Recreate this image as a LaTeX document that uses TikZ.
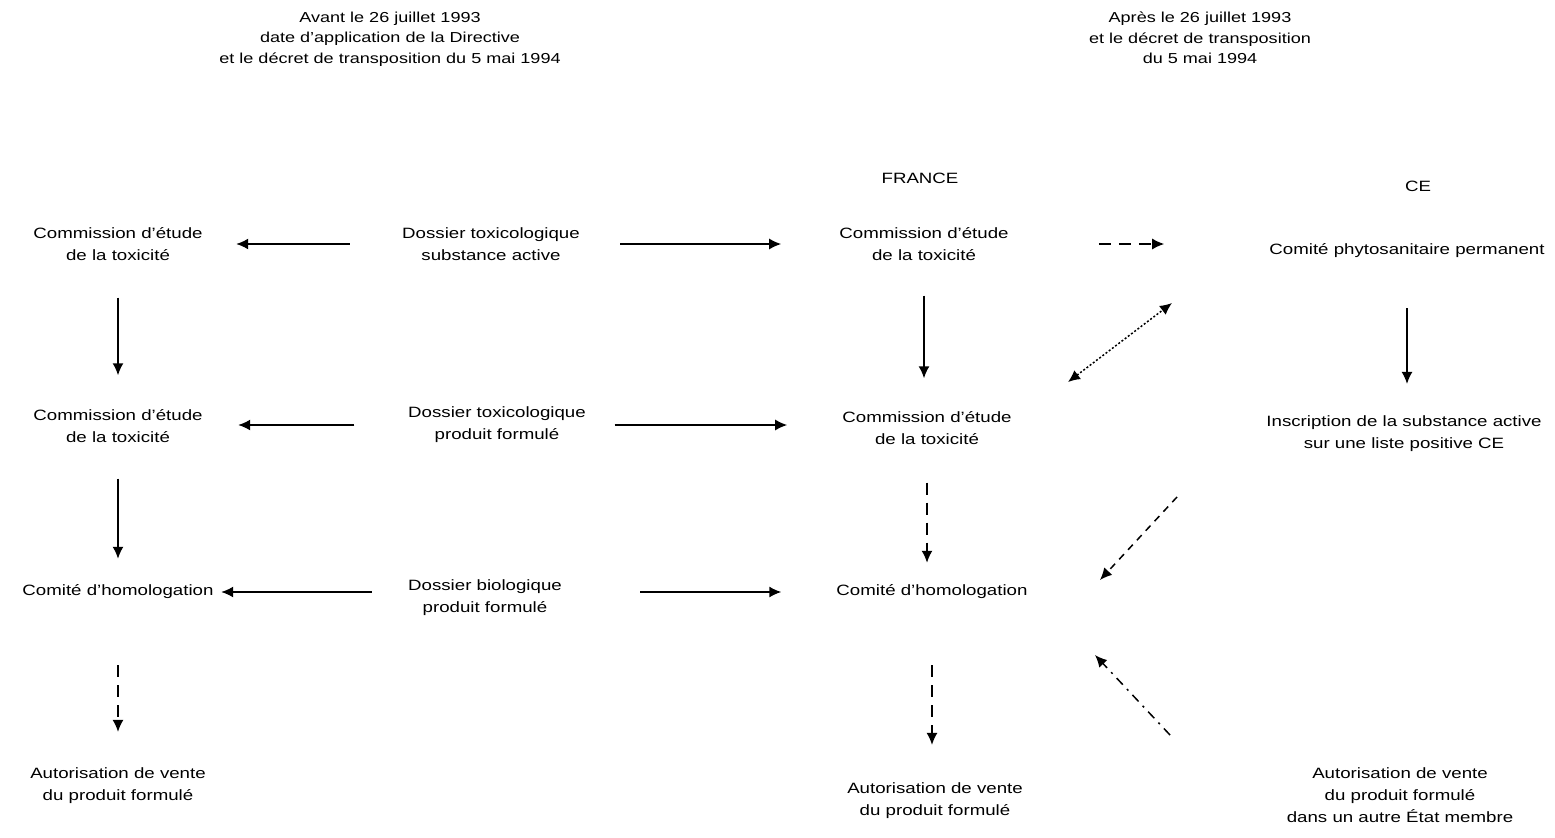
\documentclass[tikz,border=0pt]{standalone}
\usepackage{fontspec}
\setmainfont[FakeStretch=1.25]{Liberation Sans}
\usetikzlibrary{arrows.meta}
\begin{document}
\begin{tikzpicture}[x=1bp,y=-1bp,
  lbl/.style={align=center,inner sep=0pt,font=\fontsize{15}{22}\selectfont},
  hdr/.style={align=center,inner sep=0pt,font=\fontsize{14.5}{20.5}\selectfont},
  arr/.style={line width=1.5bp,-{Latex[length=12bp,width=11bp]}},
  darr/.style={arr,dash pattern=on 12bp off 8bp},
  sdarr/.style={arr,dash pattern=on 7bp off 6bp},
  ddarr/.style={arr,dash pattern=on 9bp off 6bp on 2bp off 6bp},
  dotarr/.style={line width=1.5bp,dash pattern=on 2bp off 2bp,{Latex[length=12bp,width=11bp]}-{Latex[length=12bp,width=11bp]}}]
\useasboundingbox[fill=white] (0,0) rectangle (1555,837);

% headings
\node[hdr] (hL) at (390,39) {Avant le 26 juillet 1993\\date d'application de la Directive\\et le décret de transposition du 5 mai 1994};
\node[hdr] (hR) at (1200,38) {Après le 26 juillet 1993\\et le décret de transposition\\du 5 mai 1994};
\node[lbl] (fr) at (920,178) {FRANCE};
\node[lbl] (ce) at (1418,186) {CE};

% left column
\node[lbl,minimum width=172bp] (l1) at (118,244) {Commission d'étude\\de la toxicité};
\node[lbl,minimum width=170bp] (l2) at (118,426) {Commission d'étude\\de la toxicité};
\node[lbl,minimum width=198bp] (l3) at (118,592) {Comité d'homologation};
\node[lbl] (l4) at (118,786) {Autorisation de vente\\du produit formulé};

% dossiers
\node[lbl,minimum width=188bp] (d1) at (491,244) {Dossier toxicologique\\substance active};
\node[lbl,minimum width=205bp] (d2) at (497,425) {Dossier toxicologique\\produit formulé};
\node[lbl,minimum width=160bp] (d3) at (485,598) {Dossier biologique\\produit formulé};

% France column
\node[lbl,minimum width=165bp] (f1) at (924,244) {Commission d'étude\\de la toxicité};
\node[lbl,minimum width=165bp] (f2) at (927,428) {Commission d'étude\\de la toxicité};
\node[lbl,minimum width=195bp] (f3) at (932,592) {Comité d'homologation};
\node[lbl] (f4) at (935,801) {Autorisation de vente\\du produit formulé};

% CE column
\node[lbl,minimum width=275bp] (c1) at (1407,251) {Comité phytosanitaire permanent};
\node[lbl] (c2) at (1404,434) {Inscription de la substance active\\sur une liste positive CE};
\node[lbl] (c3) at (1400,795) {Autorisation de vente\\du produit formulé\\dans un autre État membre};

% horizontal connectors
\draw[arr,shorten <=47bp,shorten >=32bp] (d1.west) -- (d1.west -| l1.east);
\draw[arr,shorten <=35bp,shorten >=58bp] (d1.east) -- (d1.east -| f1.west);
\draw[darr,shorten <=90bp,shorten >=105bp] (f1.east) -- (f1.east -| c1.west);
\draw[arr,shorten <=40bp,shorten >=35bp] (d2.west) -- (d2.west -| l2.east);
\draw[arr,shorten <=15bp,shorten >=55bp] (d2.east) -- (d2.east -| f2.west);
\draw[arr,shorten <=33bp,shorten >=4bp] (d3.west |- l3.east) -- (l3.east);
\draw[arr,shorten <=75bp,shorten >=53bp] (d3.east |- f3.west) -- (f3.west);

% vertical connectors
\draw[arr,shorten <=37bp,shorten >=34bp] (l1.south) -- (l1.south |- l2.north);
\draw[arr,shorten <=36bp,shorten >=26bp] (l2.south) -- (l2.south |- l3.north);
\draw[darr,shorten <=66bp,shorten >=36bp] (l3.south) -- (l3.south |- l4.north);
\draw[arr,shorten <=35bp,shorten >=33bp] (f1.south) -- (f1.south |- f2.north);
\draw[darr,shorten <=38bp,shorten >=22bp] (f2.south) -- (f2.south |- f3.north);
\draw[darr,shorten <=66bp,shorten >=38bp] (f3.south) -- (f3.south |- f4.north);
\draw[arr,shorten <=50bp,shorten >=32bp] (c1.south) -- (c1.south |- c2.north);

% diagonal connectors
\coordinate (p1) at (1068,382);
\coordinate (p2) at (1172,303);
\draw[dotarr] (p1) -- (p2);
\coordinate (q1) at (1177,497);
\coordinate (q2) at (1100,580);
\draw[sdarr] (q1) -- (q2);
\coordinate (r1) at (1170,735);
\coordinate (r2) at (1095,655);
\draw[ddarr] (r1) -- (r2);
\end{tikzpicture}
\end{document}
